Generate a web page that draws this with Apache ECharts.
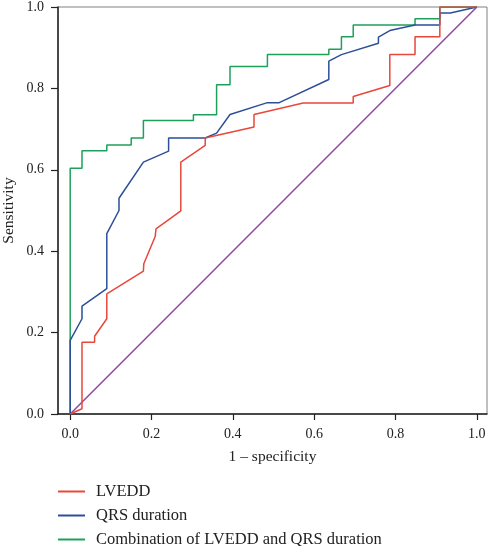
<!DOCTYPE html>
<html>
<head>
<meta charset="utf-8">
<script src="https://cdn.jsdelivr.net/npm/echarts@6/dist/echarts.min.js"></script>
<style>
html,body{margin:0;padding:0;background:#fff;}
#chart{width:489px;height:546px;}
</style>
</head>
<body>
<div id="chart"></div>
<script>
var seriesNames = ['LVEDD', 'QRS duration', 'Combination of LVEDD and QRS duration'];
var tickValues = [0, 0.2, 0.4, 0.6, 0.8, 1.0];

var lvedd = [[0,0],[0.029,0.013],[0.029,0.176],[0.060,0.176],[0.060,0.191],[0.090,0.234],[0.090,0.295],
  [0.180,0.351],[0.181,0.369],[0.209,0.436],[0.211,0.455],[0.272,0.499],[0.272,0.619],[0.332,0.660],
  [0.332,0.678],[0.452,0.705],[0.452,0.736],[0.573,0.764],[0.696,0.764],[0.696,0.780],[0.786,0.807],
  [0.786,0.883],[0.848,0.883],[0.848,0.927],[0.909,0.927],[0.909,1.0],[1.0,1.0]];

var qrs = [[0,0],[0,0.181],[0.029,0.234],[0.029,0.265],[0.090,0.308],[0.090,0.443],[0.120,0.500],
  [0.120,0.530],[0.180,0.619],[0.242,0.646],[0.242,0.678],[0.332,0.678],[0.360,0.690],[0.393,0.736],
  [0.485,0.765],[0.514,0.765],[0.636,0.822],[0.636,0.867],[0.667,0.883],[0.758,0.911],[0.758,0.926],
  [0.786,0.942],[0.848,0.956],[0.909,0.956],[0.909,0.985],[0.935,0.985],[1.0,1.0]];

var combined = [[0,0],[0,0.604],[0.029,0.604],[0.029,0.647],[0.090,0.647],[0.090,0.661],[0.150,0.661],
  [0.150,0.678],[0.180,0.678],[0.180,0.721],[0.303,0.721],[0.303,0.735],[0.360,0.735],[0.360,0.809],
  [0.393,0.809],[0.393,0.854],[0.485,0.854],[0.485,0.883],[0.636,0.883],[0.636,0.896],[0.667,0.896],
  [0.667,0.927],[0.696,0.927],[0.696,0.956],[0.848,0.956],[0.848,0.971],[0.909,0.971],[0.909,1.0],[1.0,1.0]];

var diagonal = [[0,0],[1,1]];

var colors = ['#e8473b', '#2b4f98', '#1ea05a', '#8e47a3'];
var serif = '"Liberation Serif", "DejaVu Serif", serif';

var chart = echarts.init(document.getElementById('chart'), null, {renderer: 'canvas'});
function lineSeries(name, data, color, z) {
  return {
    name: name, type: 'line', data: data, symbol: 'none', smooth: false, z: z,
    lineStyle: {color: color, width: 1.5}, itemStyle: {color: color},
    emphasis: {disabled: true}, animation: false
  };
}
chart.setOption({
  animation: false,
  grid: {left: 58, top: 7, width: 429, height: 407, show: true, borderColor: '#808080', borderWidth: 1,
    containLabel: false, outerBoundsMode: 'none'},
  xAxis: {
    type: 'value', min: -0.03, max: 1.025,
    name: '1 \u2013 specificity', nameLocation: 'middle', nameGap: 35, nameMoveOverlap: false,
    nameTextStyle: {fontFamily: serif, fontSize: 15.5, color: '#222'},
    axisLine: {show: true, onZero: false, lineStyle: {color: '#222', width: 1.5}},
    axisTick: {show: true, length: 6, customValues: tickValues, lineStyle: {color: '#222', width: 1.2}},
    axisLabel: {customValues: tickValues, margin: 13, fontFamily: serif, fontSize: 14, color: '#222',
      formatter: function (v) { return v.toFixed(1); }},
    splitLine: {show: false}
  },
  yAxis: {
    type: 'value', min: 0, max: 1, interval: 0.2,
    name: 'Sensitivity', nameLocation: 'middle', nameGap: 41, nameMoveOverlap: false,
    nameTextStyle: {fontFamily: serif, fontSize: 15.5, color: '#222'},
    axisLine: {show: true, onZero: false, lineStyle: {color: '#222', width: 1.5}},
    axisTick: {show: true, length: 7, lineStyle: {color: '#222', width: 1.2}},
    axisLabel: {margin: 14, fontFamily: serif, fontSize: 14, color: '#222',
      formatter: function (v) { return v.toFixed(1); }},
    splitLine: {show: false}
  },
  legend: {
    orient: 'vertical', left: 58, top: 483, height: 100, itemWidth: 27, itemHeight: 2, itemGap: 7,
    icon: 'rect', data: seriesNames, padding: 0,
    textStyle: {fontFamily: serif, fontSize: 16.5, color: '#222', lineHeight: 16, padding: [0,0,0,6]}
  },
  series: [
    lineSeries('diagonal', diagonal, colors[3], 1),
    lineSeries(seriesNames[2], combined, colors[2], 2),
    lineSeries(seriesNames[1], qrs, colors[1], 3),
    lineSeries(seriesNames[0], lvedd, colors[0], 4)
  ]
});
</script>
</body>
</html>
